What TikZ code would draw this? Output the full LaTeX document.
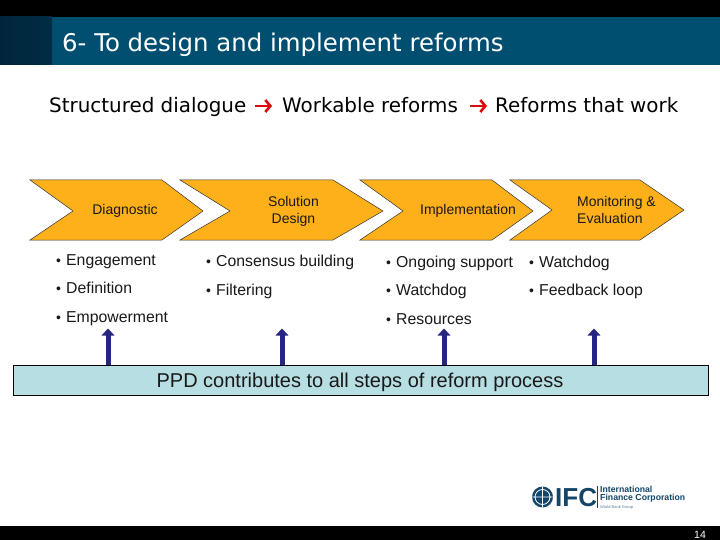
\documentclass[tikz,border=0pt]{standalone}
\usepackage{fontspec}
\setmainfont{Liberation Sans}
\newfontfamily\verd{DejaVu Sans}
\usetikzlibrary{arrows.meta}
\definecolor{teal1}{RGB}{0,79,113}
\definecolor{teal2}{RGB}{0,38,60}
\definecolor{chev}{RGB}{253,176,26}
\definecolor{barc}{RGB}{183,222,226}
\definecolor{arrowc}{RGB}{38,38,128}
\definecolor{redc}{RGB}{220,10,10}
\definecolor{txt}{RGB}{25,25,25}
\definecolor{logo}{RGB}{20,70,105}
\newcommand{\bul}[1]{\makebox[10pt][l]{\fontsize{14}{14}\selectfont •}#1}
\tikzset{
  x=1pt,y=-1pt,
  chevron/.style={fill=chev,draw=black!80,line width=0.5pt},
  steplabel/.style={font=\fontsize{14}{17}\selectfont,text=txt,align=center,inner sep=0pt},
  bullet/.style={font=\fontsize{15.8}{18}\selectfont,text=txt,anchor=base west,inner sep=0pt},
  headline/.style={font=\verd\fontsize{19.9}{22}\selectfont,text=black,anchor=base west,inner sep=0pt},
  redarrow/.style={draw=redc,line width=2.6pt,-{Straight Barb[length=5pt,width=12pt,line width=2.6pt]}},
  up/.style={draw=arrowc,line width=5pt,-{Triangle[length=7pt,width=12.5pt]},shorten >=-0.5pt},
}
\begin{document}
\begin{tikzpicture}
\useasboundingbox (0,0) rectangle (720,540);
\fill[white] (0,0) rectangle (720,540);
\fill[black] (0,0) rectangle (720,17);
\fill[teal1] (0,17) rectangle (720,65);
\fill[left color=teal2,right color=teal2!85!teal1] (0,17) rectangle (52,65);
\fill[black] (0,526) rectangle (720,540);
\node[font=\verd\fontsize{24.4}{28}\selectfont,text=white,anchor=base west,inner sep=0pt] (title) at (62,51.5) {6- To design and implement reforms};
% headline
\node[headline] (h1) at (49,113) {Structured dialogue};
\node[headline] (h2) at (282,113) {Workable reforms};
\node[headline] (h3) at (495,113) {Reforms that work};
\coordinate (a1s) at (255,106); \coordinate (a1e) at (272,106);
\coordinate (a2s) at (470,106); \coordinate (a2e) at (487,106);
\draw[redarrow] (a1s) -- (a1e);
\draw[redarrow] (a2s) -- (a2e);
% chevrons
\draw[chevron] (30,180) -- (162,180) -- (203,211) -- (162,240) -- (30,240) -- (73,211) -- cycle;
\draw[chevron] (180,180) -- (333,180) -- (383,211) -- (333,240) -- (180,240) -- (230,211) -- cycle;
\draw[chevron] (360,180) -- (492,180) -- (533,211) -- (492,240) -- (360,240) -- (403,211) -- cycle;
\draw[chevron] (510,180) -- (640,180) -- (684,210) -- (640,240) -- (510,240) -- (552,210) -- cycle;
\node[steplabel] (s1) at (125,211) {Diagnostic};
\node[steplabel] (s2) at (293.5,211.5) {Solution\\Design};
\node[steplabel] (s3) at (468,210.5) {Implementation};
\node[steplabel,align=left] (s4) at (616.5,210) {Monitoring \&\\Evaluation};
% bullets
\node[bullet] (b11) at (56,265) {\bul{Engagement}};
\node[bullet] (b12) at (56,293) {\bul{Definition}};
\node[bullet] (b13) at (56,322) {\bul{Empowerment}};
\node[bullet] (b21) at (206,266) {\bul{Consensus building}};
\node[bullet] (b22) at (206,295) {\bul{Filtering}};
\node[bullet] (b31) at (386,267) {\bul{Ongoing support}};
\node[bullet] (b32) at (386,295) {\bul{Watchdog}};
\node[bullet] (b33) at (386,324) {\bul{Resources}};
\node[bullet] (b41) at (529,267) {\bul{Watchdog}};
\node[bullet] (b42) at (529,295) {\bul{Feedback loop}};
% bar
\node[draw=black,line width=0.7pt,fill=barc,minimum width=695.5pt,minimum height=30pt,inner sep=0pt,anchor=north west] (bar) at (12.5,365) {};
\node[font=\fontsize{20}{24}\selectfont,text=txt,inner sep=0pt,anchor=base] (barlabel) at (360,387) {PPD contributes to all steps of reform process};
\foreach \n/\x in {t1/108,t2/282,t3/444,t4/594}{
  \coordinate (\n) at (\x,329);
  \draw[up] (bar.north -| \n) -- (\n);
}
% logo
\fill[logo] (542.5,497) circle (10.5);
\draw[white,line width=0.8pt] (542.5,497) circle (7.5) (532,497) -- (553,497) (542.5,486.5) -- (542.5,507.5);
\node[font=\bfseries\fontsize{26}{26}\selectfont,text=logo,anchor=base west,inner sep=0pt] (ifc) at (555,506.5) {IFC};
\fill[logo] (597,486) rectangle (597.7,508);
\node[font=\bfseries\fontsize{8.7}{8}\selectfont,text=logo,anchor=north west,inner sep=0pt,align=left] (ifcname) at (600,486)
  {International\\Finance Corporation\\[-0.5pt]{\mdseries\fontsize{4}{4}\selectfont\textcolor{logo!70}{World Bank Group}}};
\node[font=\fontsize{10.5}{10.5}\selectfont,text=white,inner sep=0pt,anchor=base] (page) at (700,538) {14};
\end{tikzpicture}
\end{document}
